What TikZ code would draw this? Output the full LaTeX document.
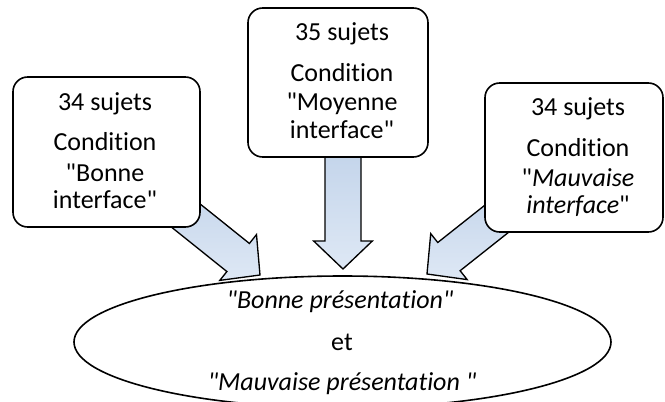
\documentclass[tikz,border=0pt]{standalone}
\usepackage{fontspec}
\setmainfont{Carlito}[Ligatures={TeXOff,CommonOff}]
\usetikzlibrary{calc,shapes.geometric}
\definecolor{arrtop}{RGB}{184,204,230}
\definecolor{arrbot}{RGB}{222,232,245}
\tikzset{
  box/.style={draw=black, line width=1.2pt, rounded corners=11pt, fill=white, inner sep=0pt},
  oval/.style={draw=black, line width=1.2pt, ellipse, inner sep=0pt},
  txt/.style={anchor=base, inner sep=0pt, font=\fontsize{19.5}{21}\selectfont},
  barrow/.style={draw=black, line width=1pt, line join=miter, top color=arrtop, bottom color=arrbot},
}
\newcommand\blockarr[3]{%
  \coordinate (#3h) at ($(#2)!21pt!(#1)$);
  \draw[barrow] ($(#1)!13.5pt!90:(#2)$) -- ($(#3h)!13.5pt!90:(#2)$) -- ($(#3h)!22pt!90:(#2)$) -- (#2)
     -- ($(#3h)!22pt!-90:(#2)$) -- ($(#3h)!13.5pt!-90:(#2)$) -- ($(#1)!13.5pt!-90:(#2)$) -- cycle;
}
\begin{document}
\begin{tikzpicture}[x=0.75pt,y=-0.75pt]
\useasboundingbox (0,0) rectangle (665,401);
% ellipse
\node[oval, minimum width=402.75pt, minimum height=99pt] (el) at (342.5,342) {};
% arrow end points
\coordinate (ls) at (106.5,152);
\coordinate (lt) at (260,275);
\coordinate (ms) at (343,100);
\coordinate (mt) at (343,269);
\coordinate (rs) at (574,157.5);
\coordinate (rt) at (427,274);
\blockarr{ls}{lt}{la}
\blockarr{ms}{mt}{ma}
\blockarr{rs}{rt}{ra}
% boxes
\node[box, minimum width=140.25pt, minimum height=112.5pt] (lb) at (106.5,152) {};
\node[box, minimum width=135pt, minimum height=111.75pt] (mb) at (338,82.5) {};
\node[box, minimum width=133.5pt, minimum height=111.75pt] (rb) at (574,157.5) {};
% left box text
\node[txt] (l1) at (105,110) {34 sujets};
\node[txt] (l2) at (105,150.5) {Condition};
\node[txt] (l3) at (105,181) {"Bonne};
\node[txt] (l4) at (105,208.5) {interface"};
% middle box text
\node[txt] (m1) at (342,40) {35 sujets};
\node[txt] (m2) at (342,81.5) {Condition};
\node[txt] (m3) at (342,110) {"Moyenne};
\node[txt] (m4) at (342,138) {interface"};
% right box text
\node[txt] (r1) at (578,115) {34 sujets};
\node[txt] (r2) at (578,156.5) {Condition};
\node[txt] (r3) at (578,186) {"\textit{Mauvaise}};
\node[txt] (r4) at (578,213.5) {\textit{interface}"};
% ellipse text
\node[txt] (e1) at (340,308) {\textit{"Bonne présentation"}};
\node[txt] (e2) at (342,350) {et};
\node[txt] (e3) at (342,390) {\textit{"Mauvaise présentation "}};
\end{tikzpicture}
\end{document}
